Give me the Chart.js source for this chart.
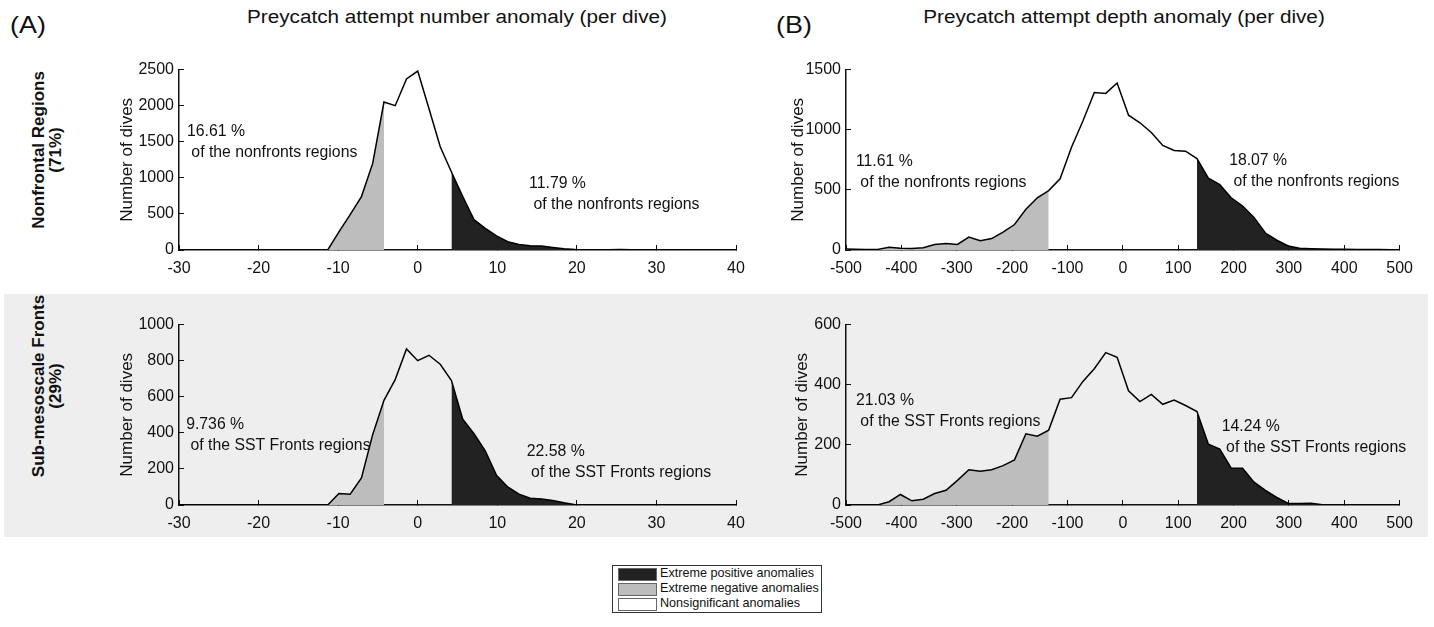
<!DOCTYPE html>
<html>
<head>
<meta charset="utf-8">
<script src="https://cdn.jsdelivr.net/npm/chart.js@4.4.1/dist/chart.umd.min.js"></script>
<style>
  body { margin: 0; width: 1434px; height: 627px; background: #fff; position: relative; overflow: hidden;
         font-family: "Liberation Sans", Arial, Helvetica, sans-serif; color: #111; }
  .band { position: absolute; left: 4px; top: 294px; width: 1424px; height: 243px; background: #eeeeee; }
  canvas { position: absolute; }
  .txt { position: absolute; white-space: nowrap; }
  .panel { font-size: 24px; top: 11px; transform: scaleX(1.12); transform-origin: left top; }
  .title { font-size: 18px; top: 7px; transform: translateX(-50%) scaleX(1.15); }
  .row { font-weight: bold; font-size: 17px; line-height: 17px; text-align: center;
         transform: translate(-50%, -50%) rotate(-90deg); }
  .legend { position: absolute; left: 612px; top: 565px; width: 208px; height: 46px;
            border: 1px solid #333; background: #fff; font-size: 12.6px; white-space: nowrap; }
  .legend div { height: 15px; line-height: 15px; position: relative; padding-left: 47px; }
  .legend span { position: absolute; left: 5px; top: 2px; width: 37px; height: 11px; border: 1px solid #666; }
</style>
</head>
<body>
<div class="band"></div>

<div class="txt panel" style="left:10px">(A)</div>
<div class="txt panel" style="left:776px">(B)</div>
<div class="txt title" style="left:457px">Preycatch attempt number anomaly (per dive)</div>
<div class="txt title" style="left:1124px">Preycatch attempt depth anomaly (per dive)</div>
<div class="txt row" style="left:47px; top:150px">Nonfrontal Regions<br>(71%)</div>
<div class="txt row" style="left:47px; top:386px">Sub-mesoscale Fronts<br>(29%)</div>

<canvas id="a-top" width="660" height="230" style="left:100px; top:50px"></canvas>
<canvas id="b-top" width="660" height="230" style="left:767px; top:50px"></canvas>
<canvas id="a-bot" width="660" height="230" style="left:100px; top:305px"></canvas>
<canvas id="b-bot" width="660" height="230" style="left:767px; top:305px"></canvas>

<div class="legend">
  <div><span style="background:#222"></span>Extreme positive anomalies</div>
  <div><span style="background:#bdbdbd"></span>Extreme negative anomalies</div>
  <div><span style="background:#fff"></span>Nonsignificant anomalies</div>
</div>

<script>
// bin centres, attempt-number anomaly
var numberBins = [-31.11, -29.70, -28.28, -26.87, -25.46, -24.04, -22.63, -21.21, -19.80, -18.38,
  -16.97, -15.56, -14.14, -12.73, -11.31, -9.90, -8.49, -7.07, -5.66, -4.24, -2.83, -1.41, 0,
  1.41, 2.83, 4.24, 5.66, 7.07, 8.49, 9.90, 11.31, 12.73, 14.14, 15.56, 16.97, 18.38, 19.80,
  21.21, 22.63, 24.04, 25.46, 26.87, 28.28, 29.70, 31.11, 32.53, 33.94, 35.36, 36.77, 38.18, 39.60, 41.01];
var numberNonfront = [0, 0, 0, 0, 0, 0, 0, 0, 0, 0,
  0, 0, 0, 0, 0, 250, 490, 740, 1200, 2050, 2000, 2370, 2480,
  1960, 1430, 1080, 740, 420, 300, 195, 115, 78, 60, 55, 35, 18, 8,
  5, 4, 5, 7, 5, 3, 3, 2, 2, 1, 1, 0, 0, 0, 0];
var numberFronts = [0, 0, 0, 0, 0, 0, 0, 0, 0, 0,
  0, 0, 0, 0, 0, 64, 60, 150, 390, 580, 695, 865, 800,
  830, 780, 690, 475, 395, 300, 165, 100, 60, 38, 33, 25, 12, 2,
  0, 0, 0, 0, 0, 0, 0, 0, 0, 0, 0, 0, 0, 0, 0];
var numberThreshold = 4.24;

// bin centres, attempt-depth anomaly
var depthBins = [-504.7, -484.1, -463.5, -442.9, -422.3, -401.7, -381.1, -360.5, -339.9, -319.3,
  -298.7, -278.1, -257.5, -236.9, -216.3, -195.7, -175.1, -154.5, -133.9, -113.3,
  -92.7, -72.1, -51.5, -30.9, -10.3, 10.3, 30.9, 51.5, 72.1, 92.7,
  113.3, 133.9, 154.5, 175.1, 195.7, 216.3, 236.9, 257.5, 278.1, 298.7,
  319.3, 339.9, 360.5, 381.1, 401.7, 422.3, 442.9, 463.5, 484.1, 504.7];
var depthNonfront = [8, 6, 5, 5, 22, 15, 13, 18, 45, 54,
  46, 108, 78, 95, 149, 212, 339, 434, 494, 592,
  855, 1072, 1310, 1302, 1389, 1121, 1058, 977, 869, 828,
  822, 760, 597, 543, 434, 366, 271, 141, 81, 33,
  14, 10, 8, 7, 6, 5, 4, 4, 3, 3];
var depthFronts = [0, 0, 0, 0, 11, 35, 14, 19, 38, 49,
  82, 117, 112, 117, 131, 150, 237, 229, 249, 352,
  357, 411, 453, 507, 491, 380, 344, 368, 335, 349,
  331, 311, 202, 186, 123, 122, 76, 49, 25, 5,
  5, 6, 1, 0, 0, 0, 0, 0, 0, 0];
var depthThreshold = 133.9;

var numberTicks = { min: -30, max: 40, step: 10 };
var depthTicks = { min: -500, max: 500, step: 100 };

Chart.defaults.font.family = '"Liberation Sans", Arial, Helvetica, sans-serif';
Chart.defaults.color = '#111';

// percentage notes, written at data coordinates
var notesPlugin = {
  id: 'notes',
  afterDatasetsDraw: function (chart, args, opts) {
    var ctx = chart.ctx, xs = chart.scales.x, ys = chart.scales.y;
    ctx.save();
    ctx.font = '15.8px "Liberation Sans", Arial, sans-serif';
    ctx.fillStyle = '#111';
    ctx.textBaseline = 'middle';
    ctx.textAlign = 'left';
    (opts.items || []).forEach(function (n) {
      var px = xs.getPixelForValue(n.x), py = ys.getPixelForValue(n.y);
      n.lines.forEach(function (t, i) { ctx.fillText(t, px, py + i * 21); });
    });
    ctx.restore();
  }
};

function axis(min, max, step, extra) {
  var a = {
    type: 'linear', min: min, max: max,
    ticks: { stepSize: step, autoSkip: false, maxRotation: 0, font: { size: 16 }, color: '#111',
             callback: function (v) { return v; } },
    grid: { drawOnChartArea: false, tickLength: -5, color: '#111', lineWidth: 1 },
    border: { color: '#111', width: 1.5 }
  };
  for (var k in extra) a[k] = extra[k];
  return a;
}

function histChart(id, bins, counts, thr, xr, yMax, yStep, o) {
  var pts = bins.map(function (x, i) { return { x: x, y: counts[i] }; });
  var neg = pts.filter(function (p) { return p.x <= -thr; });
  var pos = pts.filter(function (p) { return p.x >= thr; });

  var xAxis = axis(xr.min, xr.max, xr.step, {
    afterFit: function (s) { s.height = 30; }
  });
  xAxis.ticks.padding = 14;
  var yAxis = axis(0, yMax, yStep, {
    afterFit: function (s) { s.width = 79; },
    title: { display: true, text: 'Number of dives', font: { size: 17 }, color: '#111',
             padding: { top: o.titlePad, bottom: 0 } }
  });
  yAxis.ticks.padding = 10;

  new Chart(document.getElementById(id), {
    type: 'line',
    data: {
      datasets: [
        { data: pts, borderColor: '#000', borderWidth: 1.5, pointRadius: 0, fill: false, tension: 0 },
        { data: neg, borderWidth: 0, borderColor: 'rgba(0,0,0,0)', backgroundColor: '#bdbdbd', pointRadius: 0, fill: 'origin' },
        { data: pos, borderWidth: 0, borderColor: 'rgba(0,0,0,0)', backgroundColor: '#222', pointRadius: 0, fill: 'origin' }
      ]
    },
    options: {
      responsive: false,
      animation: false,
      devicePixelRatio: 1,
      layout: { padding: { top: o.padTop, right: o.padRight, left: 0, bottom: 0 } },
      plugins: { legend: { display: false }, tooltip: { enabled: false }, notes: { items: o.notes } },
      scales: { x: xAxis, y: yAxis }
    },
    plugins: [notesPlugin]
  });
}

histChart('a-top', numberBins, numberNonfront, numberThreshold, numberTicks, 2500, 500, {
  padTop: 17, padRight: 24, titlePad: 17,
  notes: [
    { x: -29, y: 1640, lines: ['16.61 %', ' of the nonfronts regions'] },
    { x: 14, y: 915, lines: ['11.79 %', ' of the nonfronts regions'] }
  ]
});
histChart('b-top', depthBins, depthNonfront, depthThreshold, depthTicks, 1500, 500, {
  padTop: 16, padRight: 25, titlePad: 21,
  notes: [
    { x: -482, y: 738, lines: ['11.61 %', ' of the nonfronts regions'] },
    { x: 192, y: 746, lines: ['18.07 %', ' of the nonfronts regions'] }
  ]
});
histChart('a-bot', numberBins, numberFronts, numberThreshold, numberTicks, 1000, 200, {
  padTop: 18, padRight: 24, titlePad: 17,
  notes: [
    { x: -29.1, y: 444, lines: ['9.736 %', ' of the SST Fronts regions'] },
    { x: 13.7, y: 296, lines: ['22.58 %', ' of the SST Fronts regions'] }
  ]
});
histChart('b-bot', depthBins, depthFronts, depthThreshold, depthTicks, 600, 200, {
  padTop: 17, padRight: 25, titlePad: 25,
  notes: [
    { x: -482, y: 346, lines: ['21.03 %', ' of the SST Fronts regions'] },
    { x: 178.6, y: 262, lines: ['14.24 %', ' of the SST Fronts regions'] }
  ]
});
</script>
</body>
</html>
